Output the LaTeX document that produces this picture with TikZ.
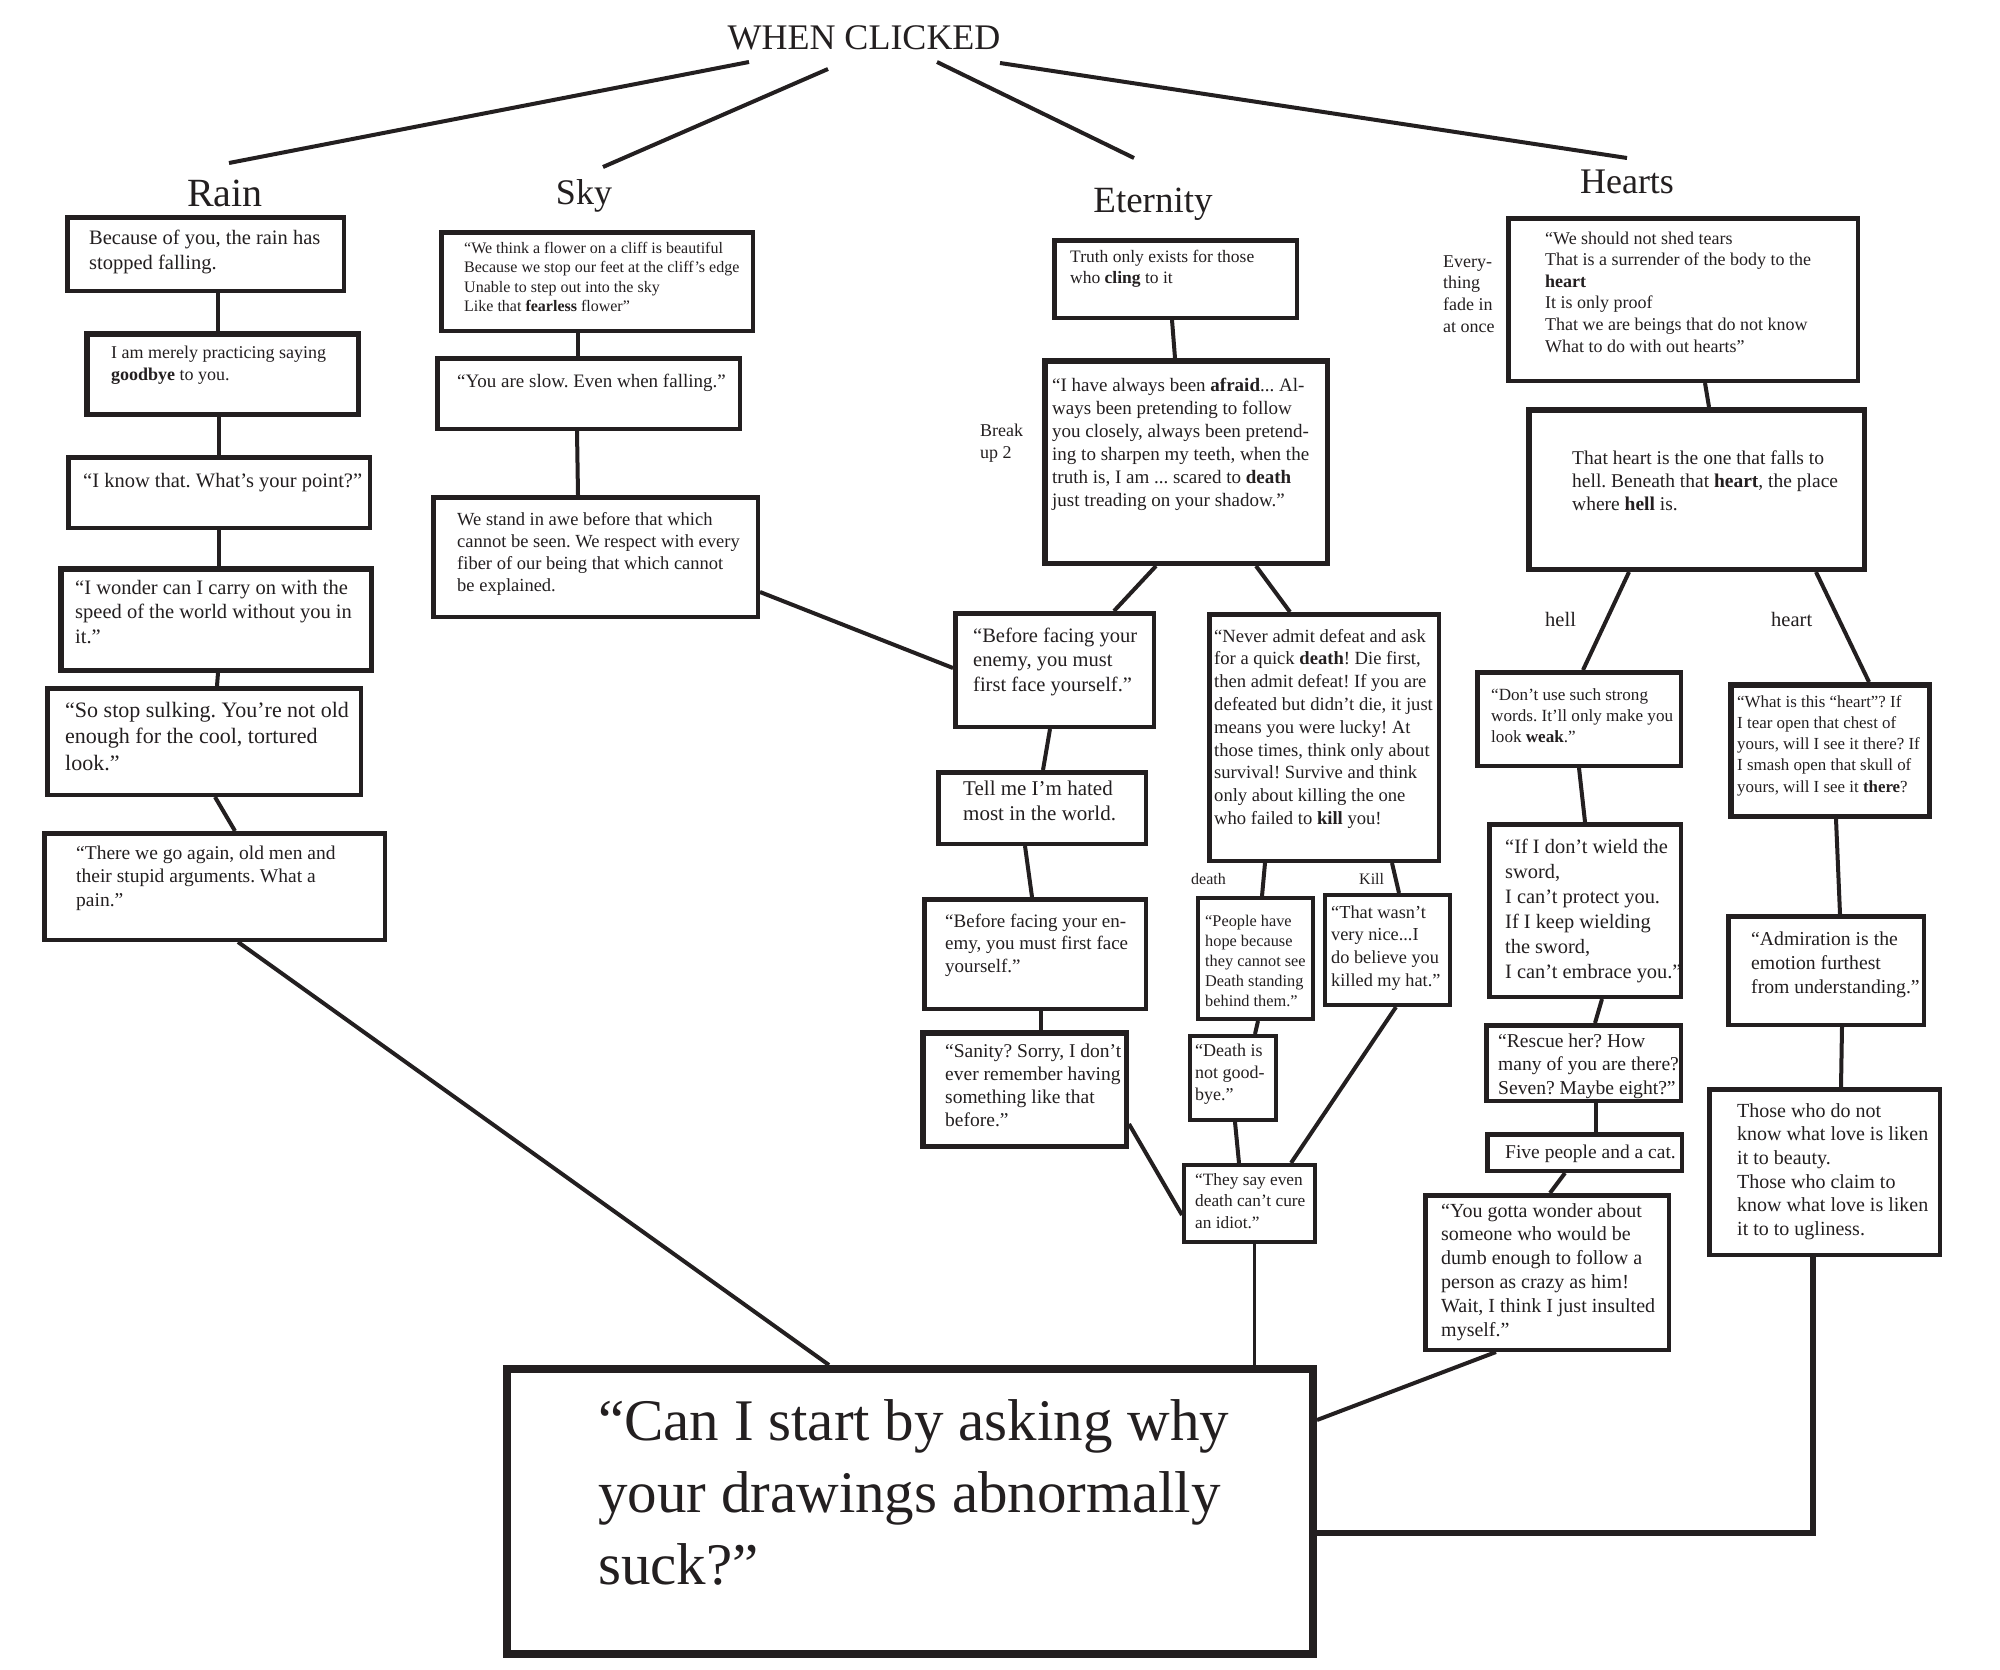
\documentclass[tikz,border=0pt]{standalone}
\usepackage{fontspec}
\setmainfont{Liberation Serif}
\usetikzlibrary{calc}
\definecolor{ink}{HTML}{231F20}
\frenchspacing
\tikzset{
  boxst/.style={draw=ink, fill=white, rectangle, inner sep=0pt},
  txtst/.style={inner sep=0pt, text=ink},
  con/.style={draw=ink, line width=4pt},
  ttl/.style={inner sep=0pt, text=ink, anchor=base},
}
% name, x1, y1, x2, y2, line width
\newcommand\mkbox[6]{\node[boxst, line width=#6pt, anchor=north west,
  minimum width={(#4-#2-#6)*1pt}, minimum height={(#5-#3-#6)*1pt}] (#1) at (#2,#3) {};}
% name, x, first baseline, size, skip, lines
\newcommand\mktxt[6]{\node[txtst, anchor=base west] (#1) at (#2,#3)
  {\fontsize{#4}{#5}\selectfont\frenchspacing\begin{tabular}[t]{@{}l@{}}#6\end{tabular}};}
\begin{document}
\begin{tikzpicture}[x=1pt, y=-1pt]
\fill[white] (0,0) rectangle (2000,1670);
\useasboundingbox (0,0) rectangle (2000,1670);

% titles
\node[ttl] (wc) at (864,49) {\fontsize{36}{43}\selectfont WHEN CLICKED};
\node[ttl] (rain) at (225,206) {\fontsize{40}{48}\selectfont Rain};
\node[ttl] (sky) at (584,204) {\fontsize{36}{43}\selectfont Sky};
\node[ttl] (eter) at (1153,212) {\fontsize{37}{44}\selectfont Eternity};
\node[ttl] (hearts) at (1627,193) {\fontsize{36}{43}\selectfont Hearts};

\draw[con] ($(wc.base)+(-115,13)$) -- ($(rain.base)+(4,-43)$);
\draw[con] ($(wc.base)+(-36,20)$) -- ($(sky.base)+(19,-37)$);
\draw[con] ($(wc.base)+(73,13)$) -- ($(eter.base)+(-19,-54)$);
\draw[con] ($(wc.base)+(136,14)$) -- ($(hearts.base)+(0,-35)$);

% Rain column
\mkbox{r1}{65}{215}{346}{293}{4.5}
\mkbox{r2}{84}{331}{361}{417}{5.5}
\mkbox{r3}{66}{455}{372}{530}{4.5}
\mkbox{r4}{58}{566}{374}{673}{5.5}
\mkbox{r5}{45}{686}{363}{797}{4.5}
\mkbox{r6}{42}{831}{387}{942}{4.5}
\mktxt{r1t}{89}{244}{20.5}{25}{Because of you, the rain has\\stopped falling.}
\mktxt{r2t}{111}{358}{18}{22}{I am merely practicing saying\\\textbf{goodbye} to you.}
\mktxt{r3t}{83}{487}{20.5}{25}{“I know that. What’s your point?”}
\mktxt{r4t}{75}{594}{20.5}{24.5}{“I wonder can I carry on with the\\speed of the world without you in\\it.”}
\mktxt{r5t}{65}{717}{22}{26.5}{“So stop sulking. You’re not old\\enough for the cool, tortured\\look.”}
\mktxt{r6t}{76}{859}{19.5}{23.5}{“There we go again, old men and\\their stupid arguments. What a\\pain.”}

% Sky column
\mkbox{s1}{439}{230}{755}{333}{4.5}
\mkbox{s2}{435}{356}{742}{431}{4.5}
\mkbox{s3}{431}{495}{760}{619}{4.5}
\mktxt{s1t}{464}{253}{16}{19.5}{“We think a flower on a cliff is beautiful\\Because we stop our feet at the cliff’s edge\\Unable to step out into the sky\\Like that \textbf{fearless} flower”}
\mktxt{s2t}{457}{387}{19}{23}{“You are slow. Even when falling.”}
\mktxt{s3t}{457}{525}{18.5}{22}{We stand in awe before that which\\cannot be seen. We respect with every\\fiber of our being that which cannot\\be explained.}

% Eternity column
\mkbox{e1}{1052}{238}{1299}{320}{4.5}
\mkbox{e2}{1042}{358}{1330}{566}{5.5}
\mkbox{e3}{953}{611}{1156}{729}{4.5}
\mkbox{e4}{936}{770}{1148}{846}{4.5}
\mkbox{e5}{922}{897}{1148}{1011}{4.5}
\mkbox{e6}{920}{1030}{1129}{1149}{5.5}
\mkbox{e7}{1207}{612}{1441}{863}{4.5}
\mkbox{e8}{1196}{896}{1315}{1021}{4}
\mkbox{e9}{1323}{893}{1452}{1007}{4}
\mkbox{e10}{1188}{1034}{1278}{1122}{4}
\mkbox{e11}{1182}{1163}{1317}{1244}{4}
\mktxt{e1t}{1070}{262}{17.5}{21}{Truth only exists for those\\who \textbf{cling} to it}
\mktxt{e2t}{1052}{391}{19}{23}{“I have always been \textbf{afraid}... Al-\\ways been pretending to follow\\you closely, always been pretend-\\ing to sharpen my teeth, when the\\truth is, I am ... scared to \textbf{death}\\just treading on your shadow.”}
\mktxt{brk}{980}{436}{18}{22}{Break\\up 2}
\mktxt{e3t}{973}{642}{20.5}{24.5}{“Before facing your\\enemy, you must\\first face yourself.”}
\mktxt{e4t}{963}{795}{21}{25}{Tell me I’m hated\\most in the world.}
\mktxt{e5t}{945}{927}{19}{22.5}{“Before facing your en-\\emy, you must first face\\yourself.”}
\mktxt{e6t}{945}{1057}{19.5}{23}{“Sanity? Sorry, I don’t\\ever remember having\\something like that\\before.”}
\mktxt{e7t}{1214}{642}{18.6}{22.8}{“Never admit defeat and ask\\for a quick \textbf{death}! Die first,\\then admit defeat! If you are\\defeated but didn’t die, it just\\means you were lucky! At\\those times, think only about\\survival! Survive and think\\only about killing the one\\who failed to \textbf{kill} you!}
\mktxt{dth}{1191}{884}{16}{19}{death}
\mktxt{kil}{1359}{884}{16}{19}{Kill}
\mktxt{e8t}{1205}{926}{16.3}{20.2}{“People have\\hope because\\they cannot see\\Death standing\\behind them.”}
\mktxt{e9t}{1331}{918}{18.3}{22.7}{“That wasn’t\\very nice...I\\do believe you\\killed my hat.”}
\mktxt{e10t}{1195}{1056}{18}{22}{“Death is\\not good-\\bye.”}
\mktxt{e11t}{1195}{1185}{17.3}{21.5}{“They say even\\death can’t cure\\an idiot.”}

% Hearts column
\mkbox{h1}{1506}{216}{1860}{383}{4.5}
\mkbox{h2}{1526}{407}{1867}{572}{5.5}
\mkbox{h3}{1475}{670}{1683}{768}{4.5}
\mkbox{h4}{1487}{822}{1683}{999}{4.5}
\mkbox{h5}{1484}{1023}{1683}{1103}{4.5}
\mkbox{h6}{1485}{1132}{1684}{1173}{4.5}
\mkbox{h7}{1728}{682}{1932}{819}{5.5}
\mkbox{h8}{1423}{1193}{1671}{1352}{4.5}
\mkbox{h9}{1726}{914}{1926}{1027}{4.5}
\mkbox{h10}{1707}{1087}{1942}{1257}{4.5}
\mktxt{h1t}{1545}{244}{18}{21.6}{“We should not shed tears\\That is a surrender of the body to the\\\textbf{heart}\\It is only proof\\That we are beings that do not know\\What to do with out hearts”}
\mktxt{evr}{1443}{267}{18}{21.7}{Every-\\thing\\fade in\\at once}
\mktxt{h2t}{1572}{464}{19.5}{23}{That heart is the one that falls to\\hell. Beneath that \textbf{heart}, the place\\where \textbf{hell} is.}
\mktxt{hel}{1545}{626}{20.5}{24}{hell}
\mktxt{hrt}{1771}{626}{20.5}{24}{heart}
\mktxt{h3t}{1491}{700}{17.1}{21}{“Don’t use such strong\\words. It’ll only make you\\look \textbf{weak}.”}
\mktxt{h4t}{1505}{853}{20.4}{25.1}{“If I don’t wield the\\sword,\\I can’t protect you.\\If I keep wielding\\the sword,\\I can’t embrace you.”}
\mktxt{h5t}{1498}{1047}{19.6}{23.7}{“Rescue her? How\\many of you are there?\\Seven? Maybe eight?”}
\mktxt{h6t}{1505}{1158}{19.5}{23}{Five people and a cat.}
\mktxt{h7t}{1737}{707}{16.9}{21.3}{“What is this “heart”? If\\I tear open that chest of\\yours, will I see it there? If\\I smash open that skull of\\yours, will I see it \textbf{there}?}
\mktxt{h8t}{1441}{1217}{20}{23.9}{“You gotta wonder about\\someone who would be\\dumb enough to follow a\\person as crazy as him!\\Wait, I think I just insulted\\myself.”}
\mktxt{h9t}{1751}{945}{19.7}{24.3}{“Admiration is the\\emotion furthest\\from understanding.”}
\mktxt{h10t}{1737}{1117}{20}{23.7}{Those who do not\\know what love is liken\\it to beauty.\\Those who claim to\\know what love is liken\\it to to ugliness.}

% big box
\mkbox{big}{503}{1365}{1317}{1658}{8}
\mktxt{bigt}{598}{1440}{59}{72}{“Can I start by asking why\\your drawings abnormally\\suck?”}

% connectors: Rain
\draw[con] ([xshift=153pt]r1.south west) -- ([xshift=134pt]r2.north west);
\draw[con] ([xshift=135pt]r2.south west) -- ([xshift=153pt]r3.north west);
\draw[con] ([xshift=153pt]r3.south west) -- ([xshift=161pt]r4.north west);
\draw[con] ([xshift=160pt]r4.south west) -- ([xshift=172pt]r5.north west);
\draw[con] ([xshift=170pt]r5.south west) -- ([xshift=193pt]r6.north west);
\draw[con] ([xshift=196pt]r6.south west) -- ([xshift=326pt]big.north west);
% Sky
\draw[con] ([xshift=139pt]s1.south west) -- ([xshift=143pt]s2.north west);
\draw[con] ([xshift=142pt]s2.south west) -- ([xshift=147pt]s3.north west);
\draw[con] ([yshift=-97pt]s3.north east) -- ([yshift=-57pt]e3.north west);
% Eternity
\draw[con] ([xshift=120pt]e1.south west) -- ([xshift=133pt]e2.north west);
\draw[con] ([xshift=114pt]e2.south west) -- ([xshift=161pt]e3.north west);
\draw[con] ([xshift=214pt]e2.south west) -- ([xshift=83pt]e7.north west);
\draw[con] ([xshift=97pt]e3.south west) -- ([xshift=107pt]e4.north west);
\draw[con] ([xshift=89pt]e4.south west) -- ([xshift=110pt]e5.north west);
\draw[con] ([xshift=119pt]e5.south west) -- ([xshift=121pt]e6.north west);
\draw[con] ([yshift=25pt]e6.south east) -- ([yshift=-52pt]e11.north west);
\draw[con] ([xshift=58pt]e7.south west) -- ([xshift=66pt]e8.north west);
\draw[con] ([xshift=185pt]e7.south west) -- ([xshift=76pt]e9.north west);
\draw[con] ([xshift=62pt]e8.south west) -- ([xshift=67pt]e10.north west);
\draw[con] ([xshift=47pt]e10.south west) -- ([xshift=57pt]e11.north west);
\draw[con] ([xshift=73pt]e9.south west) -- ([xshift=109pt]e11.north west);
\draw[con, line width=3pt] ([xshift=72pt]e11.south west) -- ([xshift=751pt]big.north west);
% Hearts
\draw[con] ([xshift=199pt]h1.south west) -- ([xshift=183pt]h2.north west);
\draw[con] ([xshift=103pt]h2.south west) -- ([xshift=108pt]h3.north west);
\draw[con] ([xshift=290pt]h2.south west) -- ([xshift=141pt]h7.north west);
\draw[con] ([xshift=104pt]h3.south west) -- ([xshift=98pt]h4.north west);
\draw[con] ([xshift=115pt]h4.south west) -- ([xshift=111pt]h5.north west);
\draw[con] ([xshift=112pt]h5.south west) -- ([xshift=111pt]h6.north west);
\draw[con] ([xshift=80pt]h6.south west) -- ([xshift=127pt]h8.north west);
\draw[con] ([xshift=73pt]h8.south west) -- ([yshift=-55pt]big.north east);
\draw[con] ([xshift=108pt]h7.south west) -- ([xshift=114pt]h9.north west);
\draw[con] ([xshift=116pt]h9.south west) -- ([xshift=134pt]h10.north west);
\draw[con, line width=5.5pt] ([xshift=106pt]h10.south west) |- ([yshift=-168pt]big.north east);
\end{tikzpicture}
\end{document}
